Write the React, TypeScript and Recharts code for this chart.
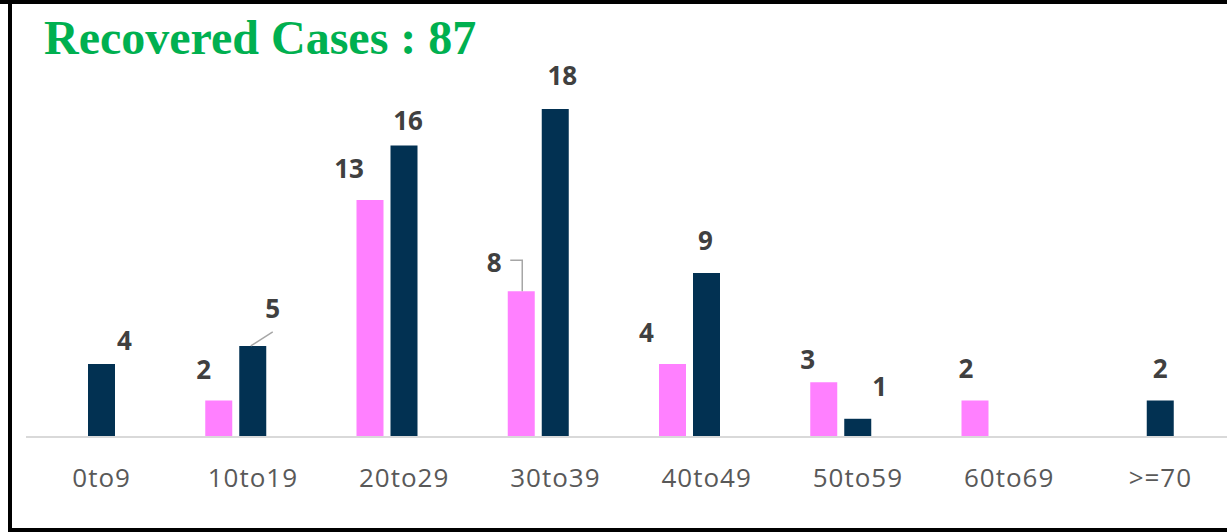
import React from 'react';
import { BarChart, Bar, XAxis, YAxis, LabelList } from 'recharts';

const ageGroups = ['0to9', '10to19', '20to29', '30to39', '40to49', '50to59', '60to69', '>=70'];
const female = [0, 2, 13, 8, 4, 3, 2, 0];
const male = [4, 5, 16, 18, 9, 1, 0, 2];
// third series in the source sheet is empty, it only reserves the slot right of the pair
const other = [0, 0, 0, 0, 0, 0, 0, 0];
const totalRecovered = 87;

const data = ageGroups.map((g, i) => ({ group: g, female: female[i], male: male[i], other: other[i] }));

// labels were dragged around by hand in the original: [dx from bar centre, label centre above bar top]
const femaleLabelPos = [[0, 31], [-15, 31], [-21, 31], [-27, 28], [-26, 31], [-16, 22], [-9, 32], [0, 31]];
const maleLabelPos = [[23, 23], [20, 37], [4, 24], [7, 33], [-1, 32], [22, 32], [0, 32], [0, 32]];
const femaleLeaders: Record<number, number[][]> = { 3: [[1, 0], [1, -31], [-11, -31]] };
const maleLeaders: Record<number, number[][]> = { 1: [[-2, 0], [20, -14]] };

// LabelList skips zero bars, so the group name is passed as the label value and looked up here
const makeLabel = (values: number[], pos: number[][], leaders: Record<number, number[][]>) => (props: any) => {
  const { x, y, width, value } = props;
  const i = ageGroups.indexOf(value);
  if (i < 0 || !values[i]) return null;
  const cx = Number(x) + Number(width) / 2;
  const top = Number(y);
  const [dx, up] = pos[i];
  const leader = leaders[i];
  return (
    <g>
      {leader && (
        <polyline
          points={leader.map(([px, py]) => `${cx + px},${top + py}`).join(' ')}
          fill="none"
          stroke="#a6a6a6"
          strokeWidth={1.5}
        />
      )}
      <text
        x={cx + dx}
        y={top - up + 9}
        textAnchor="middle"
        fill="#404040"
        fontSize={26}
        fontWeight={700}
        fontFamily="'Open Sans', sans-serif"
      >
        {values[i]}
      </text>
    </g>
  );
};

const AgeTick = (props: any) => {
  const { x, y, payload } = props;
  return (
    <text
      x={x}
      y={y}
      dy={50}
      textAnchor="middle"
      fill="#595959"
      fontSize={26}
      letterSpacing={1}
      fontFamily="'Open Sans', sans-serif"
    >
      {payload.value}
    </text>
  );
};

export default function App() {
  return (
    <div style={{ position: 'fixed', left: 0, top: 0, width: 1227, height: 532, overflow: 'hidden', background: '#fff' }}>
      <BarChart
        width={1236}
        height={532}
        data={data}
        margin={{ top: 109, right: 0, left: 26, bottom: 0 }}
        barSize={27}
        barGap={7}
      >
        <XAxis
          dataKey="group"
          interval={0}
          height={95}
          tickLine={false}
          tickSize={0}
          tickMargin={0}
          axisLine={{ stroke: '#d9d9d9', strokeWidth: 2 }}
          tick={<AgeTick />}
        />
        <YAxis hide domain={[0, 18]} />
        <Bar dataKey="female" fill="#ff80ff" isAnimationActive={false}>
          <LabelList dataKey="group" content={makeLabel(female, femaleLabelPos, femaleLeaders)} />
        </Bar>
        <Bar dataKey="male" fill="#023152" isAnimationActive={false}>
          <LabelList dataKey="group" content={makeLabel(male, maleLabelPos, maleLeaders)} />
        </Bar>
        <Bar dataKey="other" fill="#a5a5a5" isAnimationActive={false} />
      </BarChart>

      <div
        style={{
          position: 'absolute', left: 44, top: 14, margin: 0, lineHeight: 1,
          fontFamily: "'Liberation Serif', serif", fontWeight: 700, fontSize: 48,
          color: '#00b050', whiteSpace: 'nowrap',
        }}
      >
        Recovered Cases : {totalRecovered}
      </div>

      <div style={{ position: 'absolute', left: 0, top: 0, width: 1227, height: 4, background: '#000' }} />
      <div style={{ position: 'absolute', left: 8, top: 0, width: 4, height: 532, background: '#000' }} />
      <div style={{ position: 'absolute', left: 8, top: 528, width: 1219, height: 4, background: '#000' }} />
    </div>
  );
}
